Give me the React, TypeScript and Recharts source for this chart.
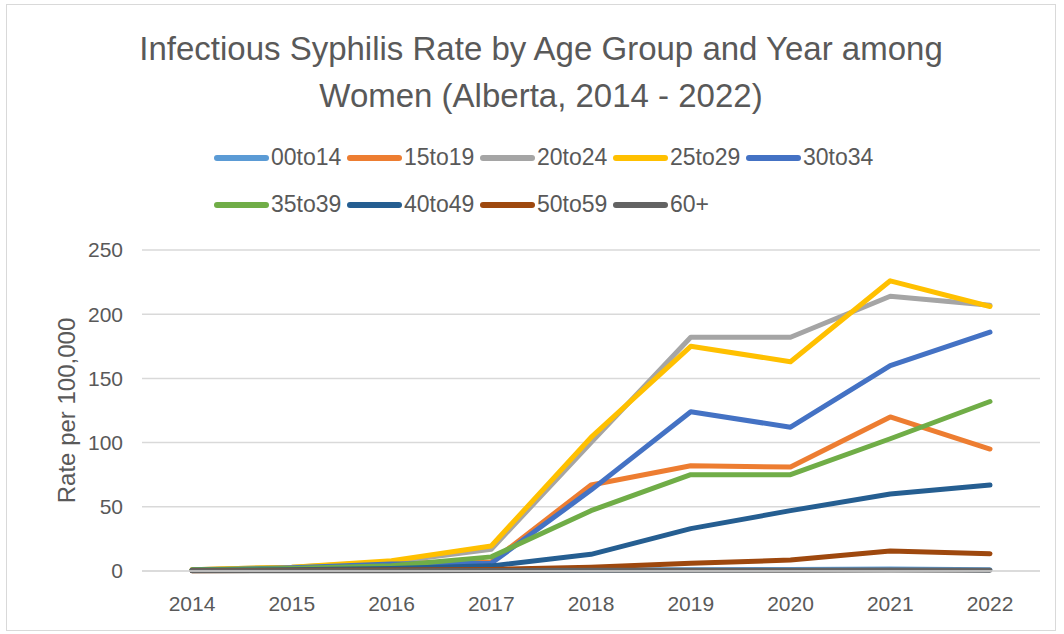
import React from 'react';
import { LineChart, Line, XAxis, YAxis, CartesianGrid, Label } from 'recharts';

const years = ['2014', '2015', '2016', '2017', '2018', '2019', '2020', '2021', '2022'];

const age00to14 = [0.3, 0.3, 0.4, 0.5, 0.8, 1.0, 1.2, 1.5, 1.0];
const age15to19 = [1, 2.5, 6, 7, 67, 82, 81, 120, 95];
const age20to24 = [1, 3, 7, 17, 100, 182, 182, 214, 207];
const age25to29 = [1, 3, 8, 19.5, 104, 175, 163, 226, 206];
const age30to34 = [0.5, 2.5, 5.5, 6, 63, 124, 112, 160, 186];
const age35to39 = [1, 2, 4, 11, 47, 75, 75, 103, 132];
const age40to49 = [0.5, 1, 2, 4, 13, 33, 47, 60, 67];
const age50to59 = [0.2, 0.5, 0.8, 1.2, 3, 6, 8.5, 15.5, 13.5];
const age60plus = [0.1, 0.2, 0.2, 0.3, 0.5, 0.5, 0.6, 0.8, 0.6];

const yTicks = [0, 50, 100, 150, 200, 250];

const SERIES = [
  { key: '00to14', values: age00to14, color: '#5B9BD5' },
  { key: '15to19', values: age15to19, color: '#ED7D31' },
  { key: '20to24', values: age20to24, color: '#A5A5A5' },
  { key: '25to29', values: age25to29, color: '#FFC000' },
  { key: '30to34', values: age30to34, color: '#4472C4' },
  { key: '35to39', values: age35to39, color: '#70AD47' },
  { key: '40to49', values: age40to49, color: '#255E91' },
  { key: '50to59', values: age50to59, color: '#9E480E' },
  { key: '60+', values: age60plus, color: '#636363' },
];

const data = years.map((year, i) => {
  const row: any = { year };
  SERIES.forEach(s => { row[s.key] = s.values[i]; });
  return row;
});

const FONT = '"Liberation Sans", Arial, sans-serif';
const TEXT = '#595959';

// legend drawn as plain html so it doesn't eat the plot's top margin
const LegendBox = () => (
  <div style={{ position: 'absolute', left: 207, top: 129, display: 'flex', flexWrap: 'wrap', width: 665, fontFamily: FONT, fontSize: 23, color: TEXT }}>
    {SERIES.map(s => (
      <div key={s.key} style={{ width: 133, height: 47, display: 'flex', alignItems: 'center' }}>
        <div style={{ width: 55, height: 6, borderRadius: 3, background: s.color, marginRight: 2 }} />
        <span>{s.key}</span>
      </div>
    ))}
  </div>
);

export default function App() {
  return (
    <div style={{ position: 'absolute', left: 6, top: 4, width: 1050, height: 627, border: '1px solid #d9d9d9', boxSizing: 'border-box', background: '#fff' }}>
      <div style={{ position: 'absolute', left: 0, top: 20, width: 1068, textAlign: 'center', fontFamily: FONT, fontSize: 33, lineHeight: '47px', color: TEXT }}>
        Infectious Syphilis Rate by Age Group and Year among<br />Women (Alberta, 2014 - 2022)
      </div>
      <LegendBox />
      <LineChart width={1048} height={625} data={data} margin={{ top: 245, right: 15, bottom: 14, left: 0 }}>
        <CartesianGrid horizontal vertical={false} stroke="#d9d9d9" strokeWidth={1.5} />
        <XAxis
          dataKey="year"
          padding={{ left: 50, right: 50 }}
          tickLine={false}
          tickSize={0}
          tickMargin={25}
          height={45}
          stroke="#d9d9d9"
          strokeWidth={1.5}
          tick={{ fill: TEXT, fontSize: 21, fontFamily: FONT }}
        />
        <YAxis
          domain={[0, 250]}
          ticks={yTicks}
          width={135}
          axisLine={false}
          tickLine={false}
          tickSize={0}
          tickMargin={19}
          tick={{ fill: TEXT, fontSize: 21, fontFamily: FONT }}
        >
          <Label value="Rate per 100,000" angle={-90} position="insideLeft" offset={59} style={{ textAnchor: 'middle', fill: TEXT, fontSize: 24, fontFamily: FONT }} />
        </YAxis>
        {SERIES.map(s => (
          <Line
            key={s.key}
            type="linear"
            dataKey={s.key}
            stroke={s.color}
            strokeWidth={5}
            strokeLinecap="round"
            strokeLinejoin="round"
            dot={false}
            activeDot={false}
            isAnimationActive={false}
          />
        ))}
      </LineChart>
    </div>
  );
}
